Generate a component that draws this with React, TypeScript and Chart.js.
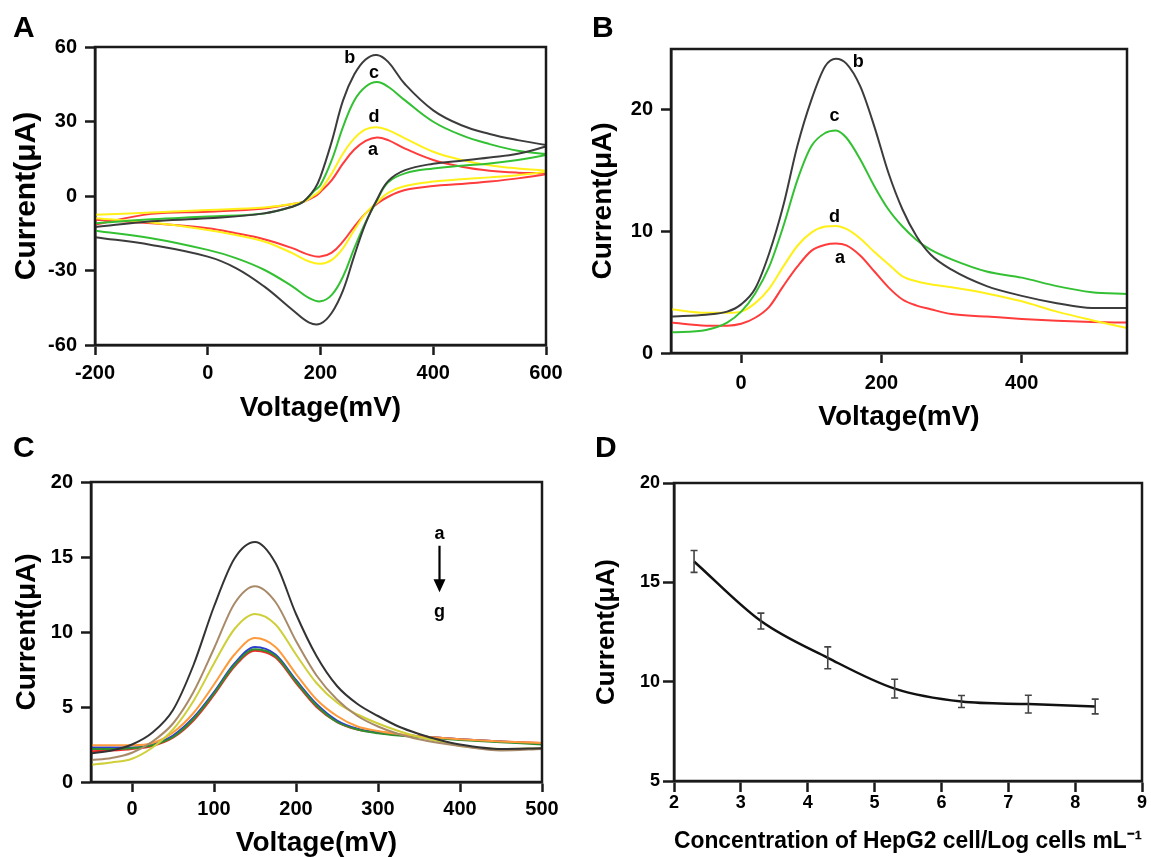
import React, { useEffect, useRef } from "react";
import { Chart, registerables } from "chart.js";

Chart.register(...registerables);

const FONT = "'Liberation Sans', Arial, Helvetica, sans-serif";
const AXIS = "#1a1a1a";

// ---------------- Panel A : cyclic voltammetry ----------------
const cvForwardV = [-200, -100, 0, 100, 150, 170, 190, 200, 220, 240, 260, 280, 300, 320, 350, 400, 450, 500, 550, 600];
const cvReverseV = [600, 550, 500, 450, 400, 350, 320, 300, 280, 260, 240, 220, 200, 180, 150, 100, 50, 0, -100, -200];
const cvB_fwd = [-12.5, -10.2, -9, -7, -4.3, -2.2, 3.0, 7.8, 22, 38.5, 49, 55, 56.8, 54, 45, 34.5, 28.5, 25, 22.5, 20.5];
const cvB_rev = [20, 17, 15.5, 14.2, 13, 10.4, 6, -1.5, -11, -24, -38, -47, -51.4, -51, -45.8, -36.4, -29, -24.4, -19.7, -16.6];
const cvC_fwd = [-11, -9.4, -8.3, -7, -4.3, -2.2, 2.3, 4.4, 14.5, 27.8, 38.5, 44, 45.9, 44, 38.5, 29.9, 24.5, 20.9, 18.2, 16.9];
const cvC_rev = [16.5, 14.5, 13.1, 12.2, 11.1, 9.1, 5.5, -1.8, -10.5, -21, -32.4, -39.8, -42.4, -41.1, -36.4, -29.7, -25, -21.7, -17, -14];
const cvD_fwd = [-7.6, -6.6, -5.6, -4.6, -3.2, -2.3, 0.5, 2.4, 9.1, 17.1, 23.2, 26.8, 27.7, 26.5, 23.2, 17.8, 14.5, 12.4, 11.1, 10.2];
const cvD_rev = [9.8, 8.4, 7.5, 6.7, 5.8, 4, 1.3, -2.6, -7, -13.7, -21, -25.7, -27.3, -26.4, -23, -18.3, -15.7, -13.7, -10.7, -9];
const cvA_fwd = [-11.5, -7.2, -6.3, -5, -3.2, -2.3, -0.2, 1.7, 6.4, 13.1, 18.7, 22.2, 23.6, 22.5, 19.1, 14.5, 11.8, 10.2, 9.4, 9.1];
const cvA_rev = [8.8, 7.1, 5.8, 4.8, 4, 2.4, -0.3, -3.2, -7, -12.3, -18.3, -22.8, -24.4, -23.7, -21, -17.4, -15, -13, -11, -9.6];
const cvXTicks = [-200, 0, 200, 400, 600];
const cvYTicks = [-60, -30, 0, 30, 60];
const cvLabels = [
  { x: 252, y: 55.6, text: "b" },
  { x: 295, y: 49.5, text: "c" },
  { x: 295, y: 31.8, text: "d" },
  { x: 293, y: 18.5, text: "a" },
];

// ---------------- Panel B : DPV of electrodes ----------------
const dpvV = [-100, -50, -20, 0, 20, 40, 60, 80, 100, 120, 135, 150, 170, 190, 210, 230, 250, 270, 300, 350, 400, 450, 500, 550];
const dpvB = [3.0, 3.15, 3.4, 4.0, 5.3, 8.2, 12.1, 17, 20.8, 23.6, 24.2, 23.8, 21.9, 18.6, 14.8, 11.8, 9.6, 8.1, 6.85, 5.5, 4.7, 4.1, 3.7, 3.7];
const dpvC = [1.7, 1.9, 2.5, 3.4, 4.9, 7.1, 10.4, 14.2, 17, 18.1, 18.3, 17.7, 15.9, 13.7, 11.8, 10.4, 9.3, 8.5, 7.7, 6.7, 6.2, 5.5, 5.0, 4.85];
const dpvD = [3.6, 3.3, 3.3, 3.4, 4.1, 5.3, 7.1, 8.8, 9.9, 10.4, 10.45, 10.2, 9.4, 8.3, 7.3, 6.3, 5.9, 5.65, 5.4, 4.9, 4.25, 3.4, 2.7, 2.05];
const dpvA = [2.5, 2.25, 2.25, 2.4, 2.9, 3.8, 5.5, 7.1, 8.4, 8.9, 9.0, 8.85, 8.0, 6.7, 5.4, 4.4, 3.9, 3.6, 3.2, 3.0, 2.8, 2.65, 2.55, 2.5];
const dpvXTicks = [0, 200, 400];
const dpvYTicks = [0, 10, 20];
const dpvLabels = [
  { x: 167, y: 23.9, text: "b" },
  { x: 133, y: 19.45, text: "c" },
  { x: 133, y: 11.2, text: "d" },
  { x: 141, y: 7.8, text: "a" },
];

// ---------------- Panel C : DPV at cell concentrations ----------------
const cellV = [-50, -25, 0, 25, 50, 75, 100, 125, 150, 175, 200, 225, 250, 275, 300, 325, 350, 375, 400, 450, 500];
const cellA = [1.9, 2.1, 2.5, 3.3, 4.8, 7.8, 11.7, 14.9, 16.0, 14.6, 11.2, 8.4, 6.4, 5.2, 4.4, 3.7, 3.2, 2.8, 2.5, 2.2, 2.25];
const cellB = [1.45, 1.6, 1.95, 2.7, 3.9, 6.0, 8.9, 11.9, 13.05, 12.0, 9.4, 7.1, 5.5, 4.4, 3.7, 3.2, 2.85, 2.6, 2.4, 2.1, 2.2];
const cellC = [1.15, 1.3, 1.55, 2.3, 3.5, 5.4, 7.9, 10.2, 11.2, 10.5, 8.5, 6.6, 5.3, 4.5, 3.9, 3.4, 3.0, 2.7, 2.4, 2.2, 2.25];
const cellD = [2.45, 2.45, 2.45, 2.6, 3.3, 4.6, 6.5, 8.5, 9.6, 9.0, 7.2, 5.5, 4.4, 3.7, 3.4, 3.2, 3.05, 2.95, 2.85, 2.7, 2.6];
const cellE = [2.3, 2.3, 2.3, 2.5, 3.1, 4.3, 6.0, 7.9, 9.0, 8.5, 6.8, 5.2, 4.1, 3.55, 3.3, 3.15, 3.05, 2.95, 2.85, 2.7, 2.55];
const cellF = [2.2, 2.2, 2.25, 2.45, 3.0, 4.2, 5.9, 7.8, 8.85, 8.4, 6.7, 5.1, 4.0, 3.5, 3.25, 3.1, 3.0, 2.9, 2.8, 2.65, 2.5];
const cellG = [2.05, 2.1, 2.2, 2.4, 2.95, 4.1, 5.8, 7.7, 8.75, 8.3, 6.6, 5.0, 4.0, 3.5, 3.3, 3.15, 3.05, 2.95, 2.85, 2.7, 2.6];
const cellXTicks = [0, 100, 200, 300, 400, 500];
const cellYTicks = [0, 5, 10, 15, 20];
const cellLabels = [
  { x: 375, y: 16.5, text: "a" },
  { x: 375, y: 11.35, text: "g" },
];
const cellArrow = { x: 375, from: 15.75, to: 12.65 };

// ---------------- Panel D : calibration ----------------
const logConc = [2.3, 3.3, 4.3, 5.3, 6.3, 7.3, 8.3];
const calCurrent = [16.05, 13.05, 11.2, 9.65, 9.0, 8.87, 8.75];
const calError = [0.55, 0.4, 0.55, 0.47, 0.3, 0.45, 0.37];
const calXTicks = [2, 3, 4, 5, 6, 7, 8, 9];
const calYTicks = [5, 10, 15, 20];

// ---------------- helpers ----------------
const pts = (xs: number[], ys: number[]) => xs.map((x, i) => ({ x, y: ys[i] }));

const decorPlugin = {
  id: "decor",
  afterDatasetsDraw(chart: any, _a: any, opts: any) {
    const { ctx, chartArea: ca, scales } = chart;
    const xs = scales.x;
    const ys = scales.y;
    ctx.save();
    if (opts.errors) {
      ctx.strokeStyle = "#444";
      ctx.lineWidth = 1.6;
      opts.errors.x.forEach((xv: number, i: number) => {
        const px = xs.getPixelForValue(xv);
        const y1 = ys.getPixelForValue(opts.errors.y[i] + opts.errors.e[i]);
        const y2 = ys.getPixelForValue(opts.errors.y[i] - opts.errors.e[i]);
        ctx.beginPath();
        ctx.moveTo(px, y1);
        ctx.lineTo(px, y2);
        ctx.moveTo(px - 3.5, y1);
        ctx.lineTo(px + 3.5, y1);
        ctx.moveTo(px - 3.5, y2);
        ctx.lineTo(px + 3.5, y2);
        ctx.stroke();
      });
    }
    // frame
    ctx.strokeStyle = AXIS;
    ctx.lineWidth = 2.5;
    ctx.strokeRect(ca.left, ca.top, ca.right - ca.left, ca.bottom - ca.top);
    // annotations
    if (opts.labels) {
      ctx.fillStyle = "#000";
      ctx.font = `bold 18px ${FONT}`;
      ctx.textAlign = "center";
      ctx.textBaseline = "middle";
      opts.labels.forEach((l: any) => {
        ctx.fillText(l.text, xs.getPixelForValue(l.x), ys.getPixelForValue(l.y));
      });
    }
    if (opts.arrow) {
      const px = xs.getPixelForValue(opts.arrow.x);
      const y1 = ys.getPixelForValue(opts.arrow.from);
      const y2 = ys.getPixelForValue(opts.arrow.to);
      ctx.strokeStyle = "#000";
      ctx.fillStyle = "#000";
      ctx.lineWidth = 2.2;
      ctx.beginPath();
      ctx.moveTo(px, y1);
      ctx.lineTo(px, y2 - 12);
      ctx.stroke();
      ctx.beginPath();
      ctx.moveTo(px - 6, y2 - 13);
      ctx.lineTo(px + 6, y2 - 13);
      ctx.lineTo(px, y2);
      ctx.closePath();
      ctx.fill();
    }
    if (opts.letter) {
      ctx.fillStyle = "#000";
      ctx.font = `bold 30px ${FONT}`;
      ctx.textAlign = "left";
      ctx.textBaseline = "alphabetic";
      ctx.fillText(opts.letter.text, opts.letter.x, opts.letter.y);
    }
    ctx.restore();
  },
};

type AxisOpt = {
  size: number;
  tickFont: number;
  tickPad: number;
  tickLen: number;
  titleFont: number;
  titlePad: number;
};

function makeAxis(
  axis: "x" | "y",
  min: number,
  max: number,
  tickVals: number[],
  title: string,
  o: AxisOpt
) {
  return {
    type: "linear",
    position: axis === "x" ? "bottom" : "left",
    min,
    max,
    afterBuildTicks: (s: any) => {
      s.ticks = tickVals.map((v) => ({ value: v }));
    },
    afterFit: (s: any) => {
      if (axis === "x") s.height = o.size;
      else s.width = o.size;
    },
    grid: {
      drawOnChartArea: false,
      drawTicks: true,
      tickLength: o.tickLen,
      tickWidth: 2.5,
      tickColor: AXIS,
    },
    border: { display: true, color: AXIS, width: 2.5 },
    ticks: {
      color: "#000",
      font: { family: FONT, size: o.tickFont, weight: "bold" },
      padding: o.tickPad,
      maxRotation: 0,
      minRotation: 0,
      autoSkip: false,
    },
    title: {
      display: true,
      text: title,
      color: "#000",
      font: { family: FONT, size: o.titleFont, weight: "bold", lineHeight: 1 },
      padding: axis === "x" ? { top: 0, bottom: o.titlePad } : { top: o.titlePad, bottom: 0 },
    },
  };
}

function baseOptions(padTop: number, padRight: number, x: any, y: any, decor: any) {
  return {
    responsive: false,
    animation: false,
    devicePixelRatio: 1,
    events: [],
    layout: { padding: { left: 0, top: padTop, right: padRight, bottom: 0 } },
    plugins: { legend: { display: false }, tooltip: { enabled: false }, decor },
    scales: { x, y },
  };
}

const line = (data: any[], color: string, width = 2, mode: "default" | "monotone" = "monotone") => ({
  data,
  showLine: true,
  borderColor: color,
  backgroundColor: color,
  borderWidth: width,
  pointRadius: 0,
  tension: 0.4,
  cubicInterpolationMode: mode,
  fill: false,
});

// ---------------- configs ----------------
const configA: any = {
  type: "scatter",
  data: {
    datasets: [
      line(pts(cvForwardV, cvB_fwd).concat(pts(cvReverseV, cvB_rev)), "#3c3c3c", 2, "default"),
      line(pts(cvForwardV, cvC_fwd).concat(pts(cvReverseV, cvC_rev)), "#33c133", 2, "default"),
      line(pts(cvForwardV, cvD_fwd).concat(pts(cvReverseV, cvD_rev)), "#fff01a", 2, "default"),
      line(pts(cvForwardV, cvA_fwd).concat(pts(cvReverseV, cvA_rev)), "#ff3b3b", 2, "default"),
    ],
  },
  options: baseOptions(
    47,
    29,
    makeAxis("x", -200, 600, cvXTicks, "Voltage(mV)", { size: 85, tickFont: 20, tickPad: 6, tickLen: 10, titleFont: 28, titlePad: 8 }),
    makeAxis("y", -60, 60, cvYTicks, "Current(μA)", { size: 95, tickFont: 20, tickPad: 8, tickLen: 10, titleFont: 30, titlePad: 12 }),
    { labels: cvLabels, letter: { text: "A", x: 13, y: 37 } }
  ),
  plugins: [decorPlugin],
};

const configB: any = {
  type: "scatter",
  data: {
    datasets: [
      line(pts(dpvV, dpvB), "#3c3c3c"),
      line(pts(dpvV, dpvC), "#33c133"),
      line(pts(dpvV, dpvD), "#fff01a"),
      line(pts(dpvV, dpvA), "#ff3b3b"),
    ],
  },
  options: baseOptions(
    49,
    24,
    makeAxis("x", -100, 550, dpvXTicks, "Voltage(mV)", { size: 92, tickFont: 20, tickPad: 8, tickLen: 10, titleFont: 28, titlePad: 14 }),
    makeAxis("y", 0, 25, dpvYTicks, "Current(μA)", { size: 96, tickFont: 20, tickPad: 8, tickLen: 10, titleFont: 28, titlePad: 14 }),
    { labels: dpvLabels, letter: { text: "B", x: 17, y: 37 } }
  ),
  plugins: [decorPlugin],
};

const configC: any = {
  type: "scatter",
  data: {
    datasets: [
      line(pts(cellV, cellA), "#333333"),
      line(pts(cellV, cellB), "#a88a68"),
      line(pts(cellV, cellC), "#cfcf3a"),
      line(pts(cellV, cellD), "#ff9a3c"),
      line(pts(cellV, cellF), "#2f8f2f"),
      line(pts(cellV, cellE), "#2a3fcf"),
      line(pts(cellV, cellG), "#ee2a2a"),
    ],
  },
  options: baseOptions(
    52,
    33,
    makeAxis("x", -50, 500, cellXTicks, "Voltage(mV)", { size: 75, tickFont: 20, tickPad: 5, tickLen: 10, titleFont: 28, titlePad: 0 }),
    makeAxis("y", 0, 20, cellYTicks, "Current(μA)", { size: 91, tickFont: 20, tickPad: 8, tickLen: 10, titleFont: 28, titlePad: 13 }),
    { labels: cellLabels, arrow: cellArrow, letter: { text: "C", x: 13, y: 27 } }
  ),
  plugins: [decorPlugin],
};

const configD: any = {
  type: "scatter",
  data: {
    datasets: [line(pts(logConc, calCurrent), "#111111", 2.5)],
  },
  options: baseOptions(
    53,
    9,
    makeAxis("x", 2, 9, calXTicks, "Concentration of HepG2 cell/Log cells mL⁻¹", { size: 76, tickFont: 18, tickPad: 0, tickLen: 11, titleFont: 24, titlePad: 4 }),
    makeAxis("y", 5, 20, calYTicks, "Current(μA)", { size: 99, tickFont: 18, tickPad: 3, tickLen: 11, titleFont: 26, titlePad: 19 }),
    {
      errors: { x: logConc, y: calCurrent, e: calError },
      letter: { text: "D", x: 20, y: 27 },
    }
  ),
  plugins: [decorPlugin],
};

function ChartPanel({ left, top, width, height, config }: any) {
  const ref = useRef<HTMLCanvasElement>(null);
  useEffect(() => {
    const chart = new Chart(ref.current as HTMLCanvasElement, config);
    return () => chart.destroy();
  }, [config]);
  return (
    <canvas
      ref={ref}
      width={width}
      height={height}
      style={{ position: "absolute", left, top, width, height, display: "block" }}
    />
  );
}

export default function App() {
  return (
    <div
      style={{
        position: "absolute",
        left: 0,
        top: 0,
        width: 1151,
        height: 857,
        overflow: "hidden",
        background: "#ffffff",
      }}
    >
      <ChartPanel left={0} top={0} width={575} height={430} config={configA} />
      <ChartPanel left={575} top={0} width={576} height={445} config={configB} />
      <ChartPanel left={0} top={430} width={575} height={427} config={configC} />
      <ChartPanel left={575} top={430} width={576} height={427} config={configD} />
    </div>
  );
}
